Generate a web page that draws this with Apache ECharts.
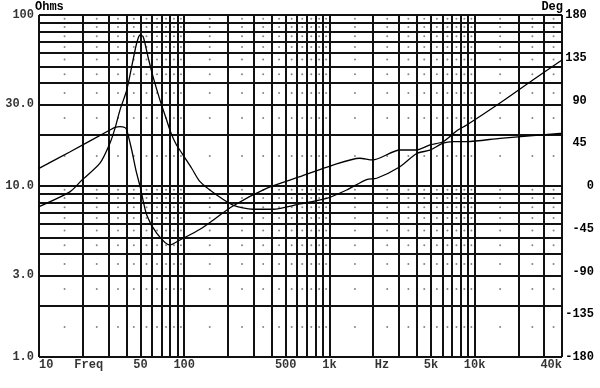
<!DOCTYPE html>
<html>
<head>
<meta charset="utf-8">
<script src="https://cdn.jsdelivr.net/npm/echarts@6/dist/echarts.min.js"></script>
<style>
html,body{margin:0;padding:0;background:#fff;}
#c{width:600px;height:388px;}
</style>
</head>
<body>
<div id="c"></div>
<script>
// Impedance magnitude (Ohms) vs frequency (Hz)
const freqZ = [10, 16.4, 19.7, 26.3, 30.8, 33.4, 36.1, 40.2, 43.5, 47.1, 49.7, 52.2, 56.3, 61, 68.1, 75.7, 81.1, 87.8, 96.6, 112.6, 128.5, 167.5, 216.6, 297.6, 409, 627, 957, 1315, 1806, 2118, 3062, 3990, 4929, 6059, 7103, 8826, 14960, 38730, 40000];
const ohms  = [7.57, 9.27, 10.8, 13.6, 17.8, 21.8, 27.8, 36.4, 49.9, 68.6, 76.4, 74.7, 57, 43.6, 31.8, 24.3, 20.4, 17.6, 15.5, 12.7, 10.6, 8.85, 7.74, 7.31, 7.31, 7.85, 8.47, 9.48, 10.9, 11.1, 12.97, 15.5, 16.2, 17.8, 18.2, 18.2, 19.0, 20.3, 20.4];

// Phase (degrees) vs frequency (Hz)
const freqP = [10, 16.4, 30.8, 33.4, 36.1, 39.0, 40.2, 43.5, 46.5, 49.7, 55.2, 64.6, 79.8, 93.5, 128.5, 216.6, 369, 627, 1058, 1618, 1985, 3062, 3990, 4929, 6059, 7660, 8826, 14960, 25200, 40000];
const deg   = [18.6, 36, 58.9, 61.6, 62.6, 61.6, 58.9, 37.9, 16.8, -0.7, -30.5, -49.5, -62.1, -56.8, -45.6, -21.1, -2.4, 9.8, 22.1, 29.2, 27.4, 37.9, 37.9, 43.2, 46.6, 58.9, 64.2, 87.4, 111.6, 132.6];

// Tick labels
const xTickVals   = [10, 22, 50, 100, 500, 1000, 2300, 5000, 10000, 40000];
const xTickLabels = ['10', 'Freq', '50', '100', '500', '1k', 'Hz', '5k', '10k', '40k'];
const yTickVals   = [1, 3, 10, 30, 100];
const yTickLabels = ['1.0', '3.0', '10.0', '30.0', '100'];

// Grid structure
const gridMant = [1, 2, 3, 4, 5, 6, 7, 8, 9];
const dotMant  = [1.5, 2.5, 3.5, 4.5, 5.5, 6.5, 7.5, 8.5, 9.5];
const xDecades = [10, 100, 1000, 10000];
const yDecades = [1, 10];
const X_MAX = 40000, Y_MAX = 100;

const xGrid = [], yGrid = [], xDots = [], yDots = [];
xDecades.forEach(d => {
  gridMant.forEach(m => { if (m * d <= X_MAX) xGrid.push(m * d); });
  dotMant.forEach(m => { if (m * d <= X_MAX) xDots.push(m * d); });
});
xGrid.push(X_MAX);
yDecades.forEach(d => {
  gridMant.forEach(m => yGrid.push(m * d));
  dotMant.forEach(m => yDots.push(m * d));
});
yGrid.push(Y_MAX);

const dots = [];
xDots.forEach(x => yDots.forEach(y => dots.push([x, y])));

const FONT = 'Liberation Mono';
const labelStyle = { fontFamily: FONT, fontWeight: 'bold', fontSize: 12, color: '#000' };

const chart = echarts.init(document.getElementById('c'), null, { renderer: 'canvas' });
chart.setOption({
  animation: false,
  backgroundColor: '#fff',
  grid: { left: 39, right: 38, top: 15, bottom: 31 },
  xAxis: {
    type: 'log', logBase: 10, min: 10, max: 40000,
    axisLine: { show: false }, axisTick: { show: false },
    axisLabel: { show: false }, splitLine: { show: false }
  },
  yAxis: [
    {
      type: 'log', logBase: 10, min: 1, max: 100,
      axisLine: { show: false }, axisTick: { show: false },
      axisLabel: { show: false }, splitLine: { show: false }
    },
    {
      type: 'value', min: -180, max: 180, interval: 45, position: 'right',
      axisLine: { show: false }, axisTick: { show: false }, splitLine: { show: false },
      axisLabel: Object.assign({
        align: 'right', margin: 32,
        formatter: v => v > 0 ? v + ' ' : String(v)
      }, labelStyle)
    }
  ],
  graphic: [
    { type: 'text', left: 35, top: 1, style: Object.assign({ text: 'Ohms', fill: '#000', font: 'bold 12px "Liberation Mono"' }) },
    { type: 'text', right: 37, top: 1, style: Object.assign({ text: 'Deg', fill: '#000', font: 'bold 12px "Liberation Mono"' }) }
  ],
  series: [
    {
      name: 'grid', type: 'scatter', xAxisIndex: 0, yAxisIndex: 0,
      symbolSize: 2, itemStyle: { color: '#666' }, silent: true, z: 1,
      data: dots,
      markLine: {
        silent: true, symbol: ['none', 'none'], label: { show: false },
        lineStyle: { color: '#111', width: 2, type: 'solid' },
        data: xGrid.map(v => ({ xAxis: v })).concat(yGrid.map(v => ({ yAxis: v })))
      }
    },
    {
      name: 'Impedance', type: 'line', xAxisIndex: 0, yAxisIndex: 0,
      data: freqZ.map((f, i) => [f, ohms[i]]),
      showSymbol: false, smooth: 0.25, z: 5,
      lineStyle: { color: '#000', width: 1.3 }
    },
    {
      name: 'Phase', type: 'line', xAxisIndex: 0, yAxisIndex: 1,
      data: freqP.map((f, i) => [f, deg[i]]),
      showSymbol: false, smooth: 0.25, z: 5,
      lineStyle: { color: '#000', width: 1.3 }
    },
    {
      name: 'xlabels', type: 'scatter', xAxisIndex: 0, yAxisIndex: 0,
      symbolSize: 0, silent: true, clip: false,
      data: xTickVals.map((v, i) => ({
        value: [v, 1],
        label: Object.assign({
          show: true, position: 'bottom', distance: 2,
          formatter: xTickLabels[i],
          align: i === 0 ? 'left' : (i === xTickVals.length - 1 ? 'right' : 'center')
        }, labelStyle)
      }))
    },
    {
      name: 'ylabels', type: 'scatter', xAxisIndex: 0, yAxisIndex: 0,
      symbolSize: 0, silent: true, clip: false,
      data: yTickVals.map((v, i) => ({
        value: [10, v],
        label: Object.assign({
          show: true, position: 'left', distance: 5,
          formatter: yTickLabels[i]
        }, labelStyle)
      }))
    }
  ]
});
</script>
</body>
</html>
